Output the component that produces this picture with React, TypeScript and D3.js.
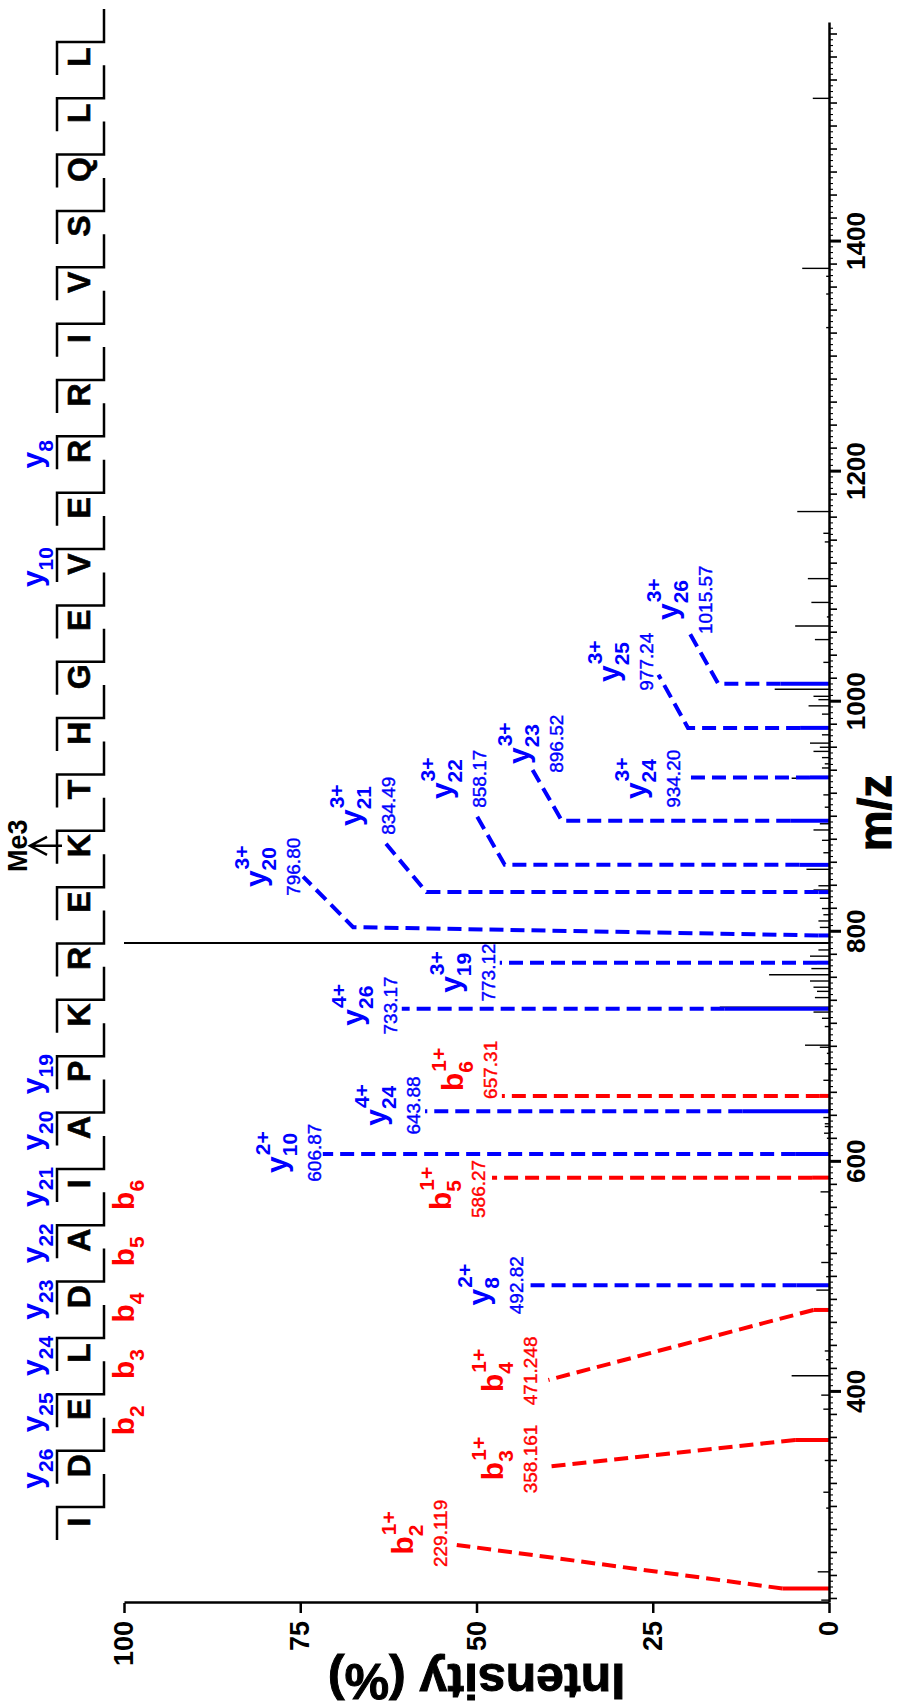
import React, { useEffect, useRef } from "react";
import * as d3 from "d3";

const W = 897;
const H = 1703;
const FONT = "'Liberation Sans', Arial, Helvetica, sans-serif";
const BLUE = "#0000ff";
const RED = "#ff0000";

// peptide sequence and the fragment marks above / below it
const sequence = ["I", "D", "E", "L", "D", "A", "I", "A", "P", "K", "R", "E", "K", "T", "H", "G", "E", "V", "E", "R", "R", "I", "V", "S", "Q", "L", "L"];
const yMarks = [26, 25, 24, 23, 22, 21, 20, 19, 10, 8];
const bMarks = [2, 3, 4, 5, 6];
const modSite = 12;
const modLabel = "Me3";

// unassigned spectrum peaks (m/z, relative intensity %)
const peakMz = [219.0, 243.6, 299.0, 312.8, 340.4, 385.0, 397.2, 414.1, 428.0, 435.6, 488.5, 500.2, 512.5, 527.8, 544.0, 554.0, 573.9, 620.5, 624.9, 630.7, 633.1, 638.5, 670.9, 685.3, 694.3, 699.6, 701.4, 717.6, 724.8, 730.2, 734.5, 742.8, 748.2, 751.8, 757.2, 762.6, 768.0, 778.8, 784.2, 790.3, 790.6, 803.8, 809.4, 814.8, 820.2, 829.1, 836.3, 840.0, 854.3, 868.7, 879.5, 888.5, 893.9, 908.3, 919.0, 933.5, 942.4, 946.0, 951.4, 956.8, 960.4, 964.0, 971.2, 989.2, 996.4, 1001.8, 1004.7, 1010.8, 1034.2, 1054.0, 1065.8, 1073.7, 1086.3, 1107.0, 1138.9, 1146.4, 1165.3, 1325.2, 1354.4, 1369.8, 1376.7, 1524.5];
const peakInt = [1.1, 1.6, 0.4, 0.8, 0.6, 0.8, 1.1, 5.3, 0.4, 0.6, 1.8, 0.4, 1.1, 0.4, 0.7, 0.6, 1.2, 0.3, 0.7, 0.6, 0.6, 0.8, 0.8, 0.6, 0.3, 1.3, 3.4, 0.6, 1.0, 2.2, 15.5, 2.0, 1.7, 2.2, 2.7, 8.5, 2.5, 2.7, 1.5, 100, 29, 1.3, 1.5, 0.8, 1.0, 1.3, 2.2, 1.5, 3.2, 0.8, 1.0, 2.2, 1.3, 0.6, 0.8, 5.3, 1.0, 0.6, 1.0, 2.2, 1.3, 2.7, 1.0, 1.0, 2.9, 1.5, 2.2, 7.7, 0.8, 2.0, 4.8, 0.3, 2.5, 3.0, 0.6, 0.8, 4.5, 0.4, 0.4, 0.4, 3.8, 2.3];

// assigned fragment ions
const ionType = ["b", "b", "b", "y", "b", "y", "y", "b", "y", "y", "y", "y", "y", "y", "y", "y", "y"];
const ionNum = ["2", "3", "4", "8", "5", "10", "24", "6", "26", "19", "20", "21", "22", "23", "24", "25", "26"];
const ionCharge = ["1+", "1+", "1+", "2+", "1+", "2+", "4+", "1+", "4+", "3+", "3+", "3+", "3+", "3+", "3+", "3+", "3+"];
const ionMz = ["229.119", "358.161", "471.248", "492.82", "586.27", "606.87", "643.88", "657.31", "733.17", "773.12", "796.80", "834.49", "858.17", "896.52", "934.20", "977.24", "1015.57"];
const ionInt = [6.6, 4.8, 2.2, 4.6, 2.4, 4.8, 12.3, 1.3, 14.8, 1.7, 1.5, 1.5, 4.2, 5.5, 2.7, 4.1, 6.9];

// leader lines and label anchors, in data units (m/z, %)
const kneeMz = [null, null, null, null, null, null, null, null, null, null, 804, 834.49, 858.17, 896.52, null, 977.24, 1015.57];
const kneeInt = [null, null, null, null, null, null, null, null, null, null, 67.5, 57.1, 46.0, 37.9, null, 20.0, 15.7];
const endMz = [267.0, 335.0, 410.4, 492.82, 586.27, 606.87, 643.88, 657.31, 733.17, 773.12, 848, 878.5, 903.2, 942.3, 934.2, 1023.5, 1061];
const endInt = [52.8, 40.0, 39.8, 42.8, 47.8, 71.8, 57.3, 46.4, 60.6, 46.7, 74.6, 63.1, 50.2, 42.2, 20.4, 24.2, 19.9];
const labelMz = [277, 341.7, 418.3, 492.82, 576.5, 608, 649, 680, 736, 764.6, 856.5, 909.6, 933, 963.5, 933, 1034.8, 1088.7];
const labelInt = [54.2, 41.4, 41.4, 43.4, 48.8, 72.1, 58.0, 47.1, 61.3, 47.4, 75.0, 61.6, 48.6, 37.7, 21.1, 25.0, 16.6];

const mzTicks = [400, 600, 800, 1000, 1200, 1400];
const intTicks = [0, 25, 50, 75, 100];

// letter + subscript (+ superscript) centred on cx
function ionText(parent, cx, base, letter, sub, sup, color) {
  const t1 = parent.append("text").attr("font-size", 30).attr("font-weight", "bold").attr("fill", color).text(letter);
  const t2 = parent.append("text").attr("font-size", 21).attr("font-weight", "bold").attr("fill", color).text(sub);
  const t3 = sup ? parent.append("text").attr("font-size", 21).attr("font-weight", "bold").attr("fill", color).text(sup) : null;
  const w1 = t1.node().getComputedTextLength();
  const w2 = t2.node().getComputedTextLength();
  const w3 = t3 ? t3.node().getComputedTextLength() : 0;
  const x0 = cx - (w1 + Math.max(w2, w3)) / 2;
  t1.attr("x", x0).attr("y", base);
  t2.attr("x", x0 + w1).attr("y", base + 10);
  if (t3) t3.attr("x", x0 + w1 + 1).attr("y", base - 17);
}

const App = () => {
  const ref = useRef(null);

  useEffect(() => {
    const svg = d3.select(ref.current);
    svg.selectAll("*").remove();

    // the whole figure is laid out as a normal spectrum, then turned a quarter
    const g = svg.append("g")
      .attr("transform", `translate(0,${H}) rotate(-90)`)
      .attr("font-family", FONT);

    const x = d3.scaleLinear().domain([216.5, 1590]).range([100, 1680]);
    const y = d3.scaleLinear().domain([0, 100]).range([829, 124]);

    // black peaks
    g.append("g")
      .selectAll("line")
      .data(peakMz)
      .join("line")
      .attr("x1", (d) => x(d))
      .attr("x2", (d) => x(d))
      .attr("y1", y(0))
      .attr("y2", (d, i) => y(peakInt[i]))
      .attr("stroke", "#000")
      .attr("stroke-width", (d, i) => (peakInt[i] > 50 ? 2 : 1.4));

    // assigned peaks
    const ions = ionMz.map((m, i) => ({ i, mz: +m, color: ionType[i] === "b" ? RED : BLUE }));
    g.append("g")
      .selectAll("line")
      .data(ions)
      .join("line")
      .attr("x1", (d) => x(d.mz))
      .attr("x2", (d) => x(d.mz))
      .attr("y1", y(0))
      .attr("y2", (d) => y(ionInt[d.i]))
      .attr("stroke", (d) => d.color)
      .attr("stroke-width", 4);

    const line = d3.line();
    ions.forEach((d) => {
      const i = d.i;
      const pts = [[x(d.mz), y(ionInt[i])]];
      if (kneeInt[i] != null) pts.push([x(kneeMz[i]), y(kneeInt[i])]);
      pts.push([x(endMz[i]), y(endInt[i])]);
      g.append("path")
        .attr("d", line(pts))
        .attr("fill", "none")
        .attr("stroke", d.color)
        .attr("stroke-width", 4)
        .attr("stroke-dasharray", "14 7");

      const lg = g.append("g");
      const lx = x(labelMz[i]);
      const ly = y(labelInt[i]);
      lg.append("text")
        .attr("x", lx)
        .attr("y", ly)
        .attr("text-anchor", "middle")
        .attr("font-size", 19)
        .attr("fill", d.color)
        .attr("stroke", d.color)
        .attr("stroke-width", 0.4)
        .text(ionMz[i]);
      ionText(lg, lx, ly - 34, ionType[i], ionNum[i], ionCharge[i], d.color);
    });

    // axes
    const xAxis = g.append("g")
      .attr("transform", `translate(0,${y(0)})`)
      .call(d3.axisBottom(x).tickValues(mzTicks).tickSize(12).tickSizeOuter(0).tickPadding(6).tickFormat(d3.format("d")));
    xAxis.select(".domain").attr("stroke-width", 2.5);
    xAxis.selectAll(".tick line").attr("stroke-width", 3);
    xAxis.selectAll("text").attr("font-size", 26).attr("font-weight", "bold").attr("font-family", FONT);

    const mid = d3.range(220, 1590, 20).filter((v) => v % 200 !== 0);
    const small = d3.range(220, 1590, 5).filter((v) => v % 20 !== 0);
    [[mid, 8, 1.6], [small, 4, 1.1]].forEach(([vals, size, sw]) => {
      const a = g.append("g")
        .attr("transform", `translate(0,${y(0)})`)
        .call(d3.axisBottom(x).tickValues(vals).tickSize(size).tickFormat(() => ""));
      a.select(".domain").remove();
      a.selectAll(".tick line").attr("stroke-width", sw);
    });

    const yAxis = g.append("g")
      .attr("transform", `translate(${x.range()[0]},0)`)
      .call(d3.axisLeft(y).tickValues(intTicks).tickSize(10).tickSizeOuter(0).tickPadding(8));
    yAxis.select(".domain").attr("stroke-width", 2.5);
    yAxis.selectAll(".tick line").attr("stroke-width", 2.5);
    yAxis.selectAll("text").attr("font-size", 27).attr("font-weight", "bold").attr("font-family", FONT);

    g.append("text")
      .attr("transform", `translate(39,${(y(0) + y(100)) / 2}) rotate(-90)`)
      .attr("text-anchor", "middle")
      .attr("font-size", 50)
      .attr("font-weight", "bold")
      .attr("stroke", "#000")
      .attr("stroke-width", 1)
      .text("Intensity (%)");

    g.append("text")
      .attr("x", (x.range()[0] + x.range()[1]) / 2)
      .attr("y", 891)
      .attr("text-anchor", "middle")
      .attr("font-size", 46)
      .attr("font-weight", "bold")
      .attr("stroke", "#000")
      .attr("stroke-width", 1)
      .text("m/z");

    // sequence with cleavage marks
    const step = 56.35;
    const lx = (i) => 181 + step * i;
    const seq = g.append("g");
    sequence.forEach((aa, i) => {
      seq.append("text")
        .attr("x", lx(i))
        .attr("y", 90)
        .attr("text-anchor", "middle")
        .attr("font-size", 32)
        .attr("font-weight", "bold")
        .attr("stroke", "#000")
        .attr("stroke-width", 0.6)
        .text(aa);
      const bx = lx(i) + 15;
      seq.append("path")
        .attr("d", `M${bx - 33},57H${bx}V104H${bx + 33}`)
        .attr("fill", "none")
        .attr("stroke", "#000")
        .attr("stroke-width", 2.5);
    });
    yMarks.forEach((k) => ionText(seq, lx(sequence.length - k) - 3, 43, "y", String(k), null, BLUE));
    bMarks.forEach((k) => ionText(seq, lx(k) - 11, 134, "b", String(k), null, RED));

    const mx = lx(modSite);
    seq.append("path")
      .attr("d", `M${mx},62V30M${mx - 9},47L${mx},30L${mx + 9},47`)
      .attr("fill", "none")
      .attr("stroke", "#000")
      .attr("stroke-width", 2.5);
    seq.append("text")
      .attr("x", mx)
      .attr("y", 27)
      .attr("text-anchor", "middle")
      .attr("font-size", 27)
      .attr("font-weight", "bold")
      .text(modLabel);
  }, []);

  return (
    <svg
      ref={ref}
      width={W}
      height={H}
      style={{ position: "absolute", left: 0, top: 0, background: "#fff" }}
    />
  );
};

export default App;
